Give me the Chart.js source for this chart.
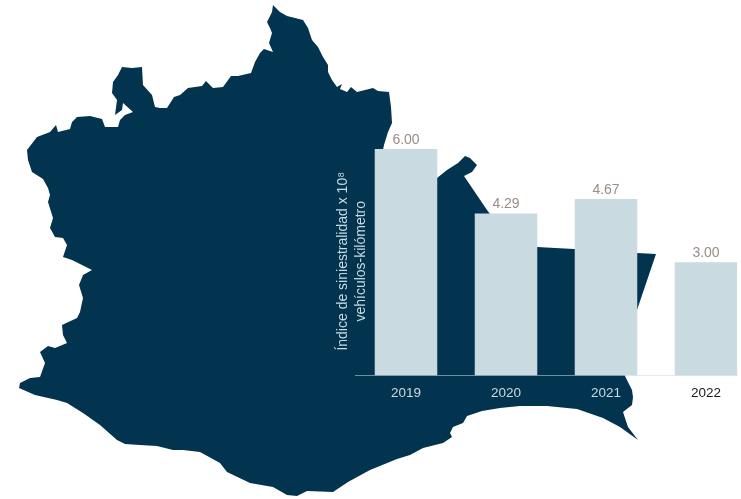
<!DOCTYPE html>
<html lang="es">
<head>
<meta charset="utf-8">
<title>Índice de siniestralidad</title>
<script src="https://cdn.jsdelivr.net/npm/chart.js@4/dist/chart.umd.js"></script>
<style>
    html, body { margin: 0; padding: 0; background: #fff; overflow: hidden; }
    canvas { position: absolute; left: 0; top: 0; }
</style>
</head>
<body>
<canvas id="mapaChart" width="741" height="499"></canvas>
<canvas id="barrasChart" width="741" height="499"></canvas>
<script>
// Datos de las barras
const years = [2019, 2020, 2021, 2022];
const values = [6.00, 4.29, 4.67, 3.00];
const yearColors = ['#c9dae1', '#c9dae1', '#c9dae1', '#1a1a1a'];
const axisTitle = ['Índice de siniestralidad x 10⁸', 'vehículos-kilómetro'];

// Silueta del estado
const mapX = [273, 280, 287, 295, 303, 308, 312, 318, 323, 328, 328, 332, 337, 342, 340, 347, 351, 357, 373, 378, 389, 391, 392, 388, 384, 383, 437, 447, 458, 465, 470, 477, 472, 464, 487, 490, 537, 574, 637, 656, 637, 625, 632, 633, 632, 623, 628, 638,
    620, 603, 577, 547, 520, 500, 482, 467, 463, 453, 450, 452, 443, 423, 410, 397, 370, 348, 333, 307, 297, 287, 273, 250, 227, 220, 200, 183, 173, 157, 140, 125, 117, 100, 83, 67, 57, 35, 19, 20, 30, 40, 45, 40, 48, 55, 67, 63, 62, 77, 80, 83, 79, 83, 92, 72, 63, 67, 63, 55, 50, 53, 48, 50, 48, 43, 32, 28, 27, 37, 50, 56, 58, 70, 72, 77, 90, 102, 105, 118, 120, 125, 133, 123, 122, 115, 117, 112, 113, 118, 122, 132, 142, 143, 152, 155, 160, 167, 174, 180, 188, 202, 206, 213, 223, 231, 238, 251, 255, 260, 264, 273, 269, 272, 270, 267, 272];
const mapY = [5, 12, 16, 18, 20, 28, 40, 47, 57, 65, 72, 80, 87, 84, 89, 92, 87, 92, 88, 91, 92, 107, 123, 132, 145, 150, 178, 170, 163, 156, 158, 165, 172, 176, 210, 214, 247, 249, 253, 254, 310, 376, 390, 397, 405, 412, 427, 440,
    427, 418, 409, 406, 406, 408, 411, 416, 423, 427, 433, 437, 443, 448, 455, 459, 470, 482, 492, 491, 496, 495, 487, 483, 472, 463, 452, 450, 450, 446, 445, 444, 440, 425, 413, 403, 400, 395, 388, 383, 378, 377, 363, 352, 346, 348, 343, 335, 325, 318, 312, 298, 285, 275, 270, 260, 257, 245, 238, 237, 228, 218, 202, 195, 188, 179, 172, 160, 150, 137, 132, 125, 132, 129, 122, 117, 116, 119, 127, 127, 120, 115, 112, 103, 110, 115, 100, 93, 82, 75, 67, 68, 67, 85, 95, 107, 108, 108, 97, 95, 88, 86, 81, 88, 87, 76, 76, 73, 62, 53, 49, 52, 43, 33, 28, 22, 12];

// Rellena la silueta usando la línea que ya calculó Chart.js
const rellenoMapa = {
    id: 'rellenoMapa',
    afterDatasetsDraw(chart) {
        const line = chart.getDatasetMeta(0).dataset;
        const ctx = chart.ctx;
        ctx.save();
        ctx.beginPath();
        line.path(ctx);
        ctx.closePath();
        ctx.fillStyle = '#02344f';
        ctx.fill();
        ctx.restore();
    }
};

// Etiqueta con el valor encima de cada barra
const etiquetasBarras = {
    id: 'etiquetasBarras',
    afterDatasetsDraw(chart) {
        const ctx = chart.ctx;
        ctx.save();
        ctx.font = '14px "Liberation Sans", Arial, sans-serif';
        ctx.fillStyle = '#9a8c86';
        ctx.textAlign = 'center';
        ctx.textBaseline = 'alphabetic';
        chart.getDatasetMeta(0).data.forEach(function (bar, i) {
            ctx.fillText(values[i].toFixed(2), bar.x, bar.y - 5);
        });
        ctx.restore();
    }
};

new Chart(document.getElementById('mapaChart'), {
    type: 'scatter',
    data: {
        datasets: [{
            data: mapX.map((x, i) => ({ x: x, y: mapY[i] })),
            showLine: true,
            borderColor: '#02344f',
            borderWidth: 0,
            pointRadius: 0,
            tension: 0
        }]
    },
    options: {
        responsive: false,
        animation: false,
        layout: { padding: 0 },
        plugins: { legend: { display: false }, tooltip: { enabled: false } },
        scales: {
            x: { type: 'linear', display: false, min: 0, max: 741 },
            y: { type: 'linear', display: false, min: 0, max: 499, reverse: true }
        }
    },
    plugins: [rellenoMapa]
});

new Chart(document.getElementById('barrasChart'), {
    type: 'bar',
    data: {
        datasets: [{
            data: years.map((y, i) => ({ x: y, y: values[i] })),
            backgroundColor: '#c9dae1',
            barPercentage: 0.625,
            categoryPercentage: 1
        }]
    },
    options: {
        responsive: false,
        animation: false,
        layout: { padding: { left: 334, right: 3.5, top: 147, bottom: 0 } },
        plugins: { legend: { display: false }, tooltip: { enabled: false } },
        scales: {
            x: {
                type: 'linear',
                offset: false,
                min: 2018.495,
                max: 2022.315,
                afterBuildTicks(scale) { scale.ticks = years.map(v => ({ value: v })); },
                afterFit(scale) { scale.height = 123.5; },
                grid: { display: true, drawOnChartArea: false, drawTicks: false, offset: false },
                border: { color: 'rgba(201, 218, 225, 0.55)', width: 1 },
                ticks: {
                    autoSkip: false,
                    maxRotation: 0,
                    padding: 10,
                    color: ctx => yearColors[years.indexOf(ctx.tick.value)],
                    font: { family: '"Liberation Sans", Arial, sans-serif', size: 13.5 },
                    callback: v => String(v)
                }
            },
            y: {
                min: 0,
                max: 6.05,
                afterFit(scale) { scale.width = 21.5; },
                grid: { display: false },
                border: { display: false },
                ticks: { display: false },
                title: {
                    display: true,
                    text: axisTitle,
                    color: '#c9dae1',
                    padding: 0,
                    font: { family: '"Liberation Sans", Arial, sans-serif', size: 14, lineHeight: 1.3 }
                }
            }
        }
    },
    plugins: [etiquetasBarras]
});
</script>
</body>
</html>
